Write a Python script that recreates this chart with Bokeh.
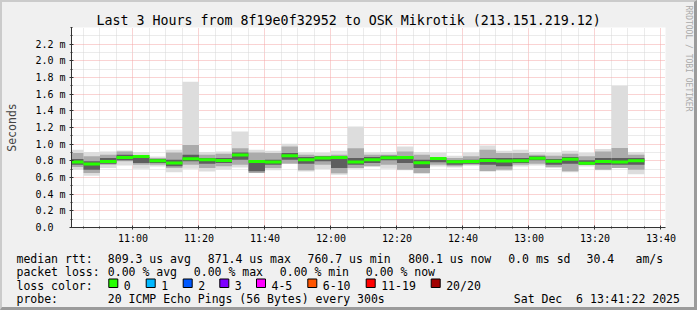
import math
from bokeh.plotting import figure
from bokeh.layouts import column
from bokeh.models import FixedTicker, Range1d, ColumnDataSource, Title
from bokeh.core.properties import value
from bokeh.embed import file_html
from bokeh.resources import INLINE

# ---------------- data ----------------
title_text = "Last 3 Hours from 8f19e0f32952 to OSK Mikrotik (213.151.219.12)"
window_start = "10:41:22"
window_end = "13:41:22"
step_minutes = 5

bar_end = ["10:45", "10:50", "10:55", "11:00", "11:05", "11:10", "11:15", "11:20",
           "11:25", "11:30", "11:35", "11:40", "11:45", "11:50", "11:55", "12:00",
           "12:05", "12:10", "12:15", "12:20", "12:25", "12:30", "12:35", "12:40",
           "12:45", "12:50", "12:55", "13:00", "13:05", "13:10", "13:15", "13:20",
           "13:25", "13:30", "13:35"]

# round-trip times in milliseconds
median = [0.786, 0.761, 0.793, 0.840, 0.851, 0.801, 0.774, 0.824, 0.813, 0.803,
          0.871, 0.791, 0.787, 0.860, 0.813, 0.834, 0.840, 0.786, 0.814, 0.838,
          0.840, 0.778, 0.827, 0.790, 0.793, 0.803, 0.797, 0.801, 0.831, 0.794,
          0.820, 0.770, 0.791, 0.786, 0.800]
ping_max = [0.933, 0.905, 0.913, 0.925, 0.905, 0.853, 0.933, 1.750, 0.905, 0.913,
            1.152, 0.933, 0.921, 1.005, 0.901, 0.897, 0.921, 1.212, 0.901, 0.905,
            0.973, 0.905, 0.897, 0.861, 0.901, 0.985, 0.921, 0.933, 0.905, 0.897,
            0.921, 0.897, 0.941, 1.700, 0.905]
ping_min = [0.694, 0.622, 0.714, 0.745, 0.706, 0.733, 0.662, 0.706, 0.673, 0.694,
            0.721, 0.673, 0.686, 0.774, 0.673, 0.702, 0.634, 0.706, 0.733, 0.706,
            0.686, 0.646, 0.733, 0.721, 0.742, 0.682, 0.682, 0.733, 0.745, 0.714,
            0.662, 0.733, 0.686, 0.714, 0.638]
mid_hi = [0.894, 0.854, 0.874, 0.913, 0.866, 0.834, 0.901, 0.990, 0.874, 0.886,
          0.950, 0.901, 0.894, 0.973, 0.874, 0.862, 0.874, 0.950, 0.874, 0.874,
          0.913, 0.874, 0.846, 0.834, 0.854, 0.933, 0.894, 0.894, 0.874, 0.862,
          0.886, 0.854, 0.913, 0.953, 0.874]
mid_lo = [0.726, 0.654, 0.754, 0.794, 0.754, 0.754, 0.714, 0.754, 0.714, 0.734,
          0.754, 0.654, 0.714, 0.766, 0.686, 0.754, 0.650, 0.714, 0.734, 0.754,
          0.694, 0.654, 0.754, 0.734, 0.754, 0.674, 0.694, 0.754, 0.766, 0.726,
          0.674, 0.766, 0.694, 0.714, 0.694]
core_hi = [0.822, 0.794, 0.834, 0.874, 0.846, 0.822, 0.814, 0.874, 0.834, 0.834,
           0.901, 0.806, 0.814, 0.894, 0.846, 0.854, 0.846, 0.834, 0.846, 0.862,
           0.854, 0.814, 0.834, 0.806, 0.814, 0.834, 0.834, 0.834, 0.854, 0.822,
           0.846, 0.806, 0.834, 0.834, 0.834]
core_lo = [0.754, 0.694, 0.766, 0.806, 0.774, 0.774, 0.734, 0.794, 0.766, 0.774,
           0.814, 0.674, 0.754, 0.814, 0.766, 0.794, 0.714, 0.754, 0.774, 0.806,
           0.774, 0.714, 0.782, 0.754, 0.766, 0.754, 0.734, 0.774, 0.806, 0.754,
           0.766, 0.754, 0.754, 0.754, 0.754]

x_tick_labels = ["11:00", "11:20", "11:40", "12:00", "12:20", "12:40", "13:00", "13:20", "13:40"]
y_ticks = [0.0, 0.2, 0.4, 0.6, 0.8, 1.0, 1.2, 1.4, 1.6, 1.8, 2.0, 2.2]
y_tick_labels = ["0.0\u00a0\u00a0", "0.2 m", "0.4 m", "0.6 m", "0.8 m", "1.0 m", "1.2 m",
                 "1.4 m", "1.6 m", "1.8 m", "2.0 m", "2.2 m"]
y_top = 2.4

legend_rtt = ["median rtt:", "809.3 us avg", "871.4 us max", "760.7 us min",
              "800.1 us now", "0.0 ms sd", "30.4", "am/s"]
legend_loss = ["packet loss:", "0.00 % avg", "0.00 % max", "0.00 % min", "0.00 % now"]
loss_title = "loss color:"
loss_labels = ["0", "1", "2", "3", "4-5", "6-10", "11-19", "20/20"]
loss_colors = ["#26ff00", "#00b8ff", "#0059ff", "#7e00ff", "#ff00ff", "#ff5500", "#ff0000", "#a10000"]
legend_probe = ["probe:", "20 ICMP Echo Pings (56 Bytes) every 300s",
                "Sat Dec\u00a0\u00a06 13:41:22 2025"]
watermark = "RRDTOOL / TOBI OETIKER"

# ---------------- helpers ----------------
def tmin(s):
    parts = [int(v) for v in s.split(":")]
    while len(parts) < 3:
        parts.append(0)
    return parts[0] * 60 + parts[1] + parts[2] / 60.0

t0, t1 = tmin(window_start), tmin(window_end)
right = [tmin(s) for s in bar_end]
left = [r - step_minutes for r in right]
x_ticks = [tmin(s) for s in x_tick_labels]
x_minor = [tmin(bar_end[0]) + step_minutes * i for i in range(40)]
x_minor = [v for v in x_minor if v <= t1 and all(abs(v - m) > 1e-6 for m in x_ticks)]
y_minor = [round(0.1 + 0.2 * i, 1) for i in range(12)] + [y_top]

FONT = "DejaVu Sans Mono"
BG = "#f0f0f0"

# ---------------- main chart ----------------
p = figure(width=692, height=244, output_backend="svg", toolbar_location=None,
           x_range=Range1d(t0, t1), y_range=Range1d(0, y_top),
           min_border_left=65, min_border_right=27, min_border_top=25, min_border_bottom=18,
           background_fill_color="white", border_fill_color=BG,
           outline_line_color=None, frame_align=False)

src = ColumnDataSource(dict(left=left, right=right, pmax=ping_max, pmin=ping_min,
                            mhi=mid_hi, mlo=mid_lo, chi=core_hi, clo=core_lo,
                            mtop=[m + 0.018 for m in median], mbot=[m - 0.018 for m in median]))

p.quad(left="left", right="right", bottom="pmin", top="pmax", source=src, fill_color="#dddddd", line_color=None)
p.quad(left="left", right="right", bottom="mlo", top="mhi", source=src, fill_color="#ababab", line_color=None)
p.quad(left="left", right="right", bottom="clo", top="chi", source=src, fill_color="#5e5e5e", line_color=None)
p.quad(left="left", right="right", bottom="mbot", top="mtop", source=src, fill_color=loss_colors[0], line_color=None)

for g in (p.xgrid, p.ygrid):
    g.grid_line_color = "#f4a6a6"
    g.grid_line_dash = "1 1"
    g.grid_line_width = 1
    g.minor_grid_line_color = "#d6d6d6"
    g.minor_grid_line_dash = "1 1"

p.xaxis.ticker = FixedTicker(ticks=x_ticks, minor_ticks=x_minor)
p.yaxis.ticker = FixedTicker(ticks=y_ticks, minor_ticks=y_minor)
p.xaxis.major_label_overrides = dict(zip(x_ticks, x_tick_labels))
p.yaxis.major_label_overrides = dict(zip(y_ticks, y_tick_labels))

for ax in (p.xaxis, p.yaxis):
    ax.axis_line_color = "#333333"
    ax.major_tick_line_color = "#333333"
    ax.minor_tick_line_color = "#333333"
    ax.major_tick_in = 2
    ax.major_tick_out = 2
    ax.minor_tick_in = 1
    ax.minor_tick_out = 1
    ax.major_label_text_font = FONT
    ax.major_label_text_font_size = "10px"
    ax.major_label_text_color = "#000000"
p.xaxis.major_label_standoff = 3
p.yaxis.major_label_standoff = 4
p.yaxis.axis_label = "Seconds"
p.yaxis.axis_label_text_font = FONT
p.yaxis.axis_label_text_font_size = "11.5px"
p.yaxis.axis_label_text_font_style = "normal"
p.yaxis.axis_label_standoff = 13

p.title.text = title_text
p.title.align = "left"
p.title.offset = 25
p.title.standoff = 0
p.title.text_font = FONT
p.title.text_font_size = "13.3px"
p.title.text_font_style = "normal"
p.title.text_color = "#000000"

# spacer + rotated watermark on the right side
p.add_layout(Title(text="\u00a0", text_font=FONT, text_font_size="1px", standoff=15), "right")
p.add_layout(Title(text=watermark, align="left", offset=-22, text_font=FONT, text_font_size="8px",
                   text_font_style="normal", text_color="#aaaaaa", standoff=0), "right")

# ---------------- legend block (pixel space) ----------------
q = figure(width=692, height=61, output_backend="svg", toolbar_location=None,
           x_range=Range1d(2, 694), y_range=Range1d(307, 246),
           x_axis_type=None, y_axis_type=None, min_border=0, frame_align=False,
           background_fill_color=BG, border_fill_color=BG, outline_line_color=None)
q.xgrid.visible = False
q.ygrid.visible = False

row_y = [258.3, 271.7, 285.1, 298.5]
rtt_x = [16, 107.3, 207.3, 307.0, 407.7, 507.7, 586.0, 635.0]
loss_x = [16, 107.3, 193.3, 279.3, 365.3]
box_x = [108.3, 145.7, 182.7, 219.3, 256.0, 307.3, 365.7, 430.7]
probe_x = [16, 107.3, 513.3]

tx, ty, tt = [], [], []
for xs, texts, yy in [(rtt_x, legend_rtt, row_y[0]), (loss_x, legend_loss, row_y[1]),
                      (probe_x, legend_probe, row_y[3])]:
    for x, t in zip(xs, texts):
        tx.append(x); ty.append(yy); tt.append(t)
tx.append(16); ty.append(row_y[2]); tt.append(loss_title)
for bx, t in zip(box_x, loss_labels):
    tx.append(bx + 15); ty.append(row_y[2]); tt.append(t)

q.text(x=tx, y=ty, text=tt, text_font=value(FONT), text_font_size=value("11.5px"),
       text_color="#000000", text_baseline="alphabetic", text_align="left")
q.quad(left=box_x, right=[b + 9 for b in box_x], top=[278.5] * len(box_x),
       bottom=[287.0] * len(box_x), fill_color=loss_colors, line_color="#000000", line_width=1)

layout = column(p, q, spacing=0,
                styles={"border-top": "2px solid #cbcbcb", "border-left": "2px solid #cbcbcb",
                        "border-right": "3px solid #9b9b9b", "border-bottom": "3px solid #9b9b9b",
                        "background-color": BG})

open("out.html", "w").write(file_html(layout, INLINE))
